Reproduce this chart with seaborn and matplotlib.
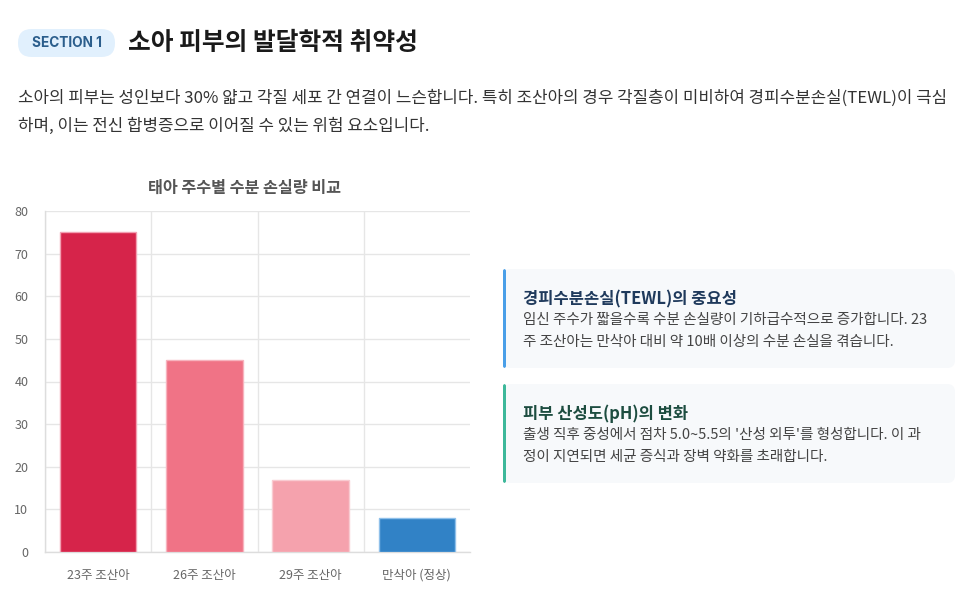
import numpy as np
import pandas as pd
import matplotlib.pyplot as plt
import seaborn as sns
from matplotlib.patches import FancyBboxPatch

# 데이터
categories = ['23주 조산아', '26주 조산아', '29주 조산아', '만삭아 (정상)']
tewl_values = [75, 45, 17, 8]
bar_colors = ['#D6244A', '#F07386', '#F5A2AD', '#3182C6']
edge_colors = ['#F2A0B2', '#F7B3BE', '#F9CBD1', '#8FC0EA']
y_ticks = [0, 10, 20, 30, 40, 50, 60, 70, 80]

header_badge = 'SECTION 1'
header_title = '소아 피부의 발달학적 취약성'
intro_lines = [
    '소아의 피부는 성인보다 30% 얇고 각질 세포 간 연결이 느슨합니다. 특히 조산아의 경우 각질층이 미비하여 경피수분손실(TEWL)이 극심',
    '하며, 이는 전신 합병증으로 이어질 수 있는 위험 요소입니다.',
]
chart_title = '태아 주수별 수분 손실량 비교'
card_titles = ['경피수분손실(TEWL)의 중요성', '피부 산성도(pH)의 변화']
card_bodies = [
    ['임신 주수가 짧을수록 수분 손실량이 기하급수적으로 증가합니다. 23',
     '주 조산아는 만삭아 대비 약 10배 이상의 수분 손실을 겪습니다.'],
    ["출생 직후 중성에서 점차 5.0~5.5의 '산성 외투'를 형성합니다. 이 과",
     '정이 지연되면 세균 증식과 장벽 약화를 초래합니다.'],
]
card_accents = ['#4A9FE8', '#3DB89A']
card_title_colors = ['#1F3A5C', '#1D4D40']

sns.set_style('white')
plt.rcParams['font.family'] = ['Noto Sans CJK KR', 'DejaVu Sans']

W, H = 975, 614
fig = plt.figure(figsize=(W / 100, H / 100), dpi=100)
fig.patch.set_facecolor('white')


def fx(px):
    return px / W


def fy(py):
    return 1 - py / H


# 헤더
badge = FancyBboxPatch((fx(18), fy(57)), fx(97), 28 / H,
                       boxstyle='round,pad=0,rounding_size=0.014',
                       transform=fig.transFigure, facecolor='#E1F0FD',
                       edgecolor='none', mutation_aspect=W / H)
fig.patches.append(badge)
fig.text(fx(66.5), fy(43), header_badge, ha='center', va='center',
         fontsize=9.8, fontweight='bold', color='#2B5E8C',
         family=['Inter', 'DejaVu Sans'])
fig.text(fx(128), fy(43), header_title, ha='left', va='center',
         fontsize=17.8, fontweight='bold', color='#1A1A1A')
for i, line in enumerate(intro_lines):
    fig.text(fx(18), fy(98 + 28 * i), line, ha='left', va='center',
             fontsize=12.1, color='#333333')

# 막대 차트
ax = fig.add_axes([fx(45), 1 - 552 / H, fx(470 - 45), (552 - 211) / H])
df = pd.DataFrame({'category': categories, 'value': tewl_values})
sns.barplot(data=df, x='category', y='value', hue='category',
            palette=bar_colors, saturation=1, legend=False, width=0.72,
            ax=ax, zorder=3)
for patch, ec in zip(ax.patches, edge_colors):
    patch.set_edgecolor(ec)
    patch.set_linewidth(1)

ax.set_xlim(-0.5, len(categories) - 0.5)
ax.set_ylim(0, 80)
ax.set_yticks(y_ticks)
ax.set_xticks(range(len(categories)))
ax.set_xticks(np.arange(-0.5, len(categories) - 0.5, 1), minor=True)
ax.set_xticklabels(categories)
ax.grid(axis='y', color='#E6E6E6', linewidth=1, zorder=0)
ax.grid(axis='x', which='minor', color='#E6E6E6', linewidth=1, zorder=0)
ax.grid(axis='x', which='major', visible=False)
ax.tick_params(axis='x', which='major', length=0, pad=12, labelsize=9,
               labelcolor='#666666')
ax.tick_params(axis='x', which='minor', length=8, color='#E6E6E6', width=1)
ax.tick_params(axis='y', length=8, color='#E6E6E6', width=1, pad=4,
               labelsize=9, labelcolor='#666666')
for side in ['top', 'right']:
    ax.spines[side].set_visible(False)
for side in ['left', 'bottom']:
    ax.spines[side].set_color('#DDDDDD')
    ax.spines[side].set_linewidth(1)
ax.set_xlabel('')
ax.set_ylabel('')
fig.text(fx(244), fy(188), chart_title, ha='center', va='center',
         fontsize=11.7, fontweight='bold', color='#555555')

# 카드
card_tops = [269, 384]
card_h = 99
for i in range(2):
    top = card_tops[i]
    card = FancyBboxPatch((fx(503), fy(top + card_h)), fx(452), card_h / H,
                          boxstyle='round,pad=0,rounding_size=0.008',
                          transform=fig.transFigure, facecolor='#F7F9FB',
                          edgecolor='none', mutation_aspect=W / H)
    fig.patches.append(card)
    accent = FancyBboxPatch((fx(503), fy(top + card_h)), fx(3), card_h / H,
                            boxstyle='round,pad=0,rounding_size=0.002',
                            transform=fig.transFigure, facecolor=card_accents[i],
                            edgecolor='none', mutation_aspect=W / H)
    fig.patches.append(accent)
    fig.text(fx(523), fy(top + 30), card_titles[i], ha='left', va='center',
             fontsize=11.9, fontweight='bold', color=card_title_colors[i])
    for j, line in enumerate(card_bodies[i]):
        fig.text(fx(523), fy(top + 51 + 22 * j), line, ha='left', va='center',
                 fontsize=10.5, color='#444444')

fig.savefig('out.png', dpi=100, facecolor='white')
